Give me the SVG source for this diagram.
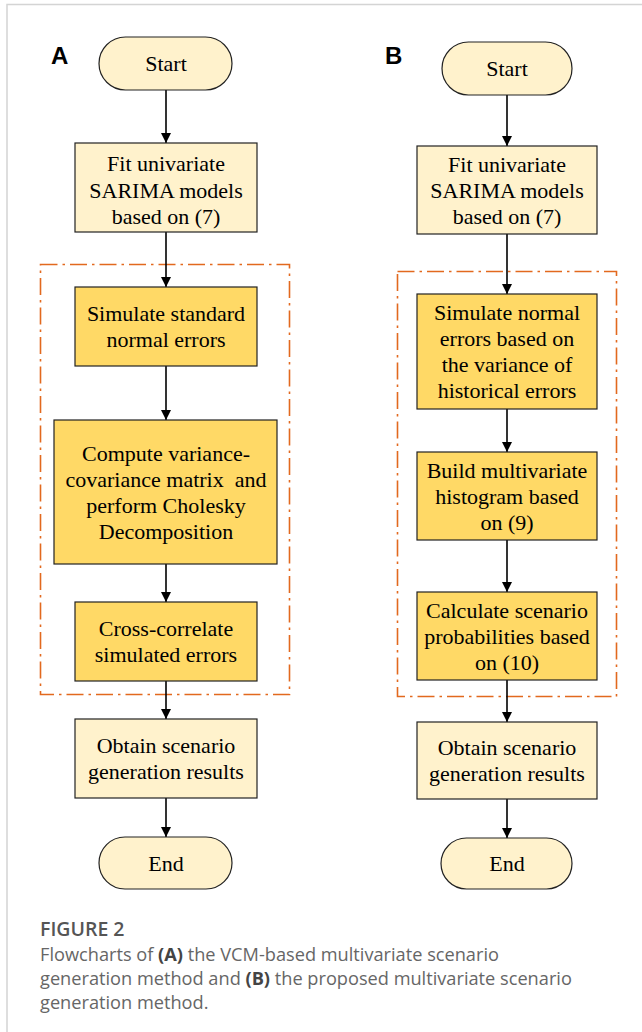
<svg xmlns="http://www.w3.org/2000/svg" width="642" height="1032" viewBox="0 0 642 1032">
<defs>
<style>
.lt{fill:#FFF2CC;stroke:#222;stroke-width:1.2}
.dk{fill:#FFD966;stroke:#222;stroke-width:1.2}
.t{font-family:"Liberation Serif","Times New Roman",serif;font-size:22px;fill:#000;text-anchor:middle}
.lbl{font-family:"Liberation Sans",Arial,sans-serif;font-size:24px;font-weight:bold;fill:#000}
.grp{fill:none;stroke:#E2691E;stroke-width:1.6;stroke-dasharray:17 5 2.5 5}
.c{stroke:#000;stroke-width:1.6;fill:none;marker-end:url(#ah)}
.cap{font-family:"Open Sans","Noto Sans",sans-serif;font-size:18.2px;fill:#666}
</style>
<marker id="ah" viewBox="0 0 10 10" refX="10" refY="5" markerWidth="6.5" markerHeight="6.5" markerUnits="strokeWidth" orient="auto">
<path d="M0,0 L10,5 L0,10 z" fill="#000"/>
</marker>
</defs>
<rect width="642" height="1032" fill="#fff"/>
<path d="M7,1032 V4.5 H642" fill="none" stroke="#d4d4d4" stroke-width="1.5"/>

<text class="lbl" x="51" y="64">A</text>
<text class="lbl" x="385" y="64">B</text>

<g id="groupA"><rect class="grp" x="40.5" y="264.5" width="249" height="430"/></g>
<g id="groupB"><rect class="grp" x="397.5" y="271.5" width="219" height="425"/></g>

<g id="connectors">
<line class="c" x1="166" y1="90" x2="166" y2="143"/>
<line class="c" x1="166" y1="232" x2="166" y2="287"/>
<line class="c" x1="166" y1="366" x2="166" y2="420"/>
<line class="c" x1="166" y1="564" x2="166" y2="602"/>
<line class="c" x1="166" y1="681" x2="166" y2="719"/>
<line class="c" x1="166" y1="798" x2="166" y2="837"/>
<line class="c" x1="507" y1="95" x2="507" y2="146"/>
<line class="c" x1="507" y1="234" x2="507" y2="294"/>
<line class="c" x1="507" y1="409" x2="507" y2="452"/>
<line class="c" x1="507" y1="540" x2="507" y2="592"/>
<line class="c" x1="507" y1="680" x2="507" y2="722"/>
<line class="c" x1="507" y1="799" x2="507" y2="838"/>
</g>

<g id="startA"><rect class="lt" x="99" y="37" width="133" height="53" rx="26.5"/><text class="t" x="166" y="71">Start</text></g>
<g id="fitA"><rect class="lt" x="75" y="143" width="182" height="89"/><text class="t" x="166" y="171">Fit univariate</text><text class="t" x="166" y="197.5">SARIMA models</text><text class="t" x="166" y="224">based on (7)</text></g>
<g id="simA"><rect class="dk" x="75" y="287" width="182" height="79"/><text class="t" x="166" y="321">Simulate standard</text><text class="t" x="166" y="347">normal errors</text></g>
<g id="compA"><rect class="dk" x="54" y="420" width="223" height="144"/><text class="t" x="166" y="460.5">Compute variance-</text><text class="t" x="166" y="486.5" style="white-space:pre">covariance matrix  and</text><text class="t" x="166" y="512.5">perform Cholesky</text><text class="t" x="166" y="538.5">Decomposition</text></g>
<g id="crossA"><rect class="dk" x="75" y="602" width="182" height="79"/><text class="t" x="166" y="635.5">Cross-correlate</text><text class="t" x="166" y="661.5">simulated errors</text></g>
<g id="obtA"><rect class="lt" x="75" y="719" width="182" height="79"/><text class="t" x="166" y="752.5">Obtain scenario</text><text class="t" x="166" y="778.5">generation results</text></g>
<g id="endA"><rect class="lt" x="99" y="837" width="133" height="52" rx="26"/><text class="t" x="166" y="870.5">End</text></g>

<g id="startB"><rect class="lt" x="442" y="42" width="130" height="53" rx="26.5"/><text class="t" x="507" y="76">Start</text></g>
<g id="fitB"><rect class="lt" x="417" y="146" width="180" height="88"/><text class="t" x="507" y="171.5">Fit univariate</text><text class="t" x="507" y="197.5">SARIMA models</text><text class="t" x="507" y="224">based on (7)</text></g>
<g id="simB"><rect class="dk" x="417" y="294" width="180" height="115"/><text class="t" x="507" y="320">Simulate normal</text><text class="t" x="507" y="346">errors based on</text><text class="t" x="507" y="372">the variance of</text><text class="t" x="507" y="398">historical errors</text></g>
<g id="buildB"><rect class="dk" x="417" y="452" width="180" height="88"/><text class="t" x="507" y="477.5">Build multivariate</text><text class="t" x="507" y="503.5">histogram based</text><text class="t" x="507" y="530">on (9)</text></g>
<g id="calcB"><rect class="dk" x="417" y="592" width="180" height="88"/><text class="t" x="507" y="617.5">Calculate scenario</text><text class="t" x="507" y="643.5">probabilities based</text><text class="t" x="507" y="670">on (10)</text></g>
<g id="obtB"><rect class="lt" x="417" y="722" width="180" height="77"/><text class="t" x="507" y="754.5">Obtain scenario</text><text class="t" x="507" y="780.5">generation results</text></g>
<g id="endB"><rect class="lt" x="441" y="838" width="131" height="51" rx="25.5"/><text class="t" x="507" y="871">End</text></g>

<g id="caption">
<text class="cap" x="40" y="936" style="font-weight:600;fill:#555;font-size:19.5px">FIGURE 2</text>
<text class="cap" x="40" y="961">Flowcharts of <tspan font-weight="700" fill="#444">(A)</tspan> the VCM-based multivariate scenario</text>
<text class="cap" x="40" y="985">generation method and <tspan font-weight="700" fill="#444">(B)</tspan> the proposed multivariate scenario</text>
<text class="cap" x="40" y="1009">generation method.</text>
</g>
</svg>
